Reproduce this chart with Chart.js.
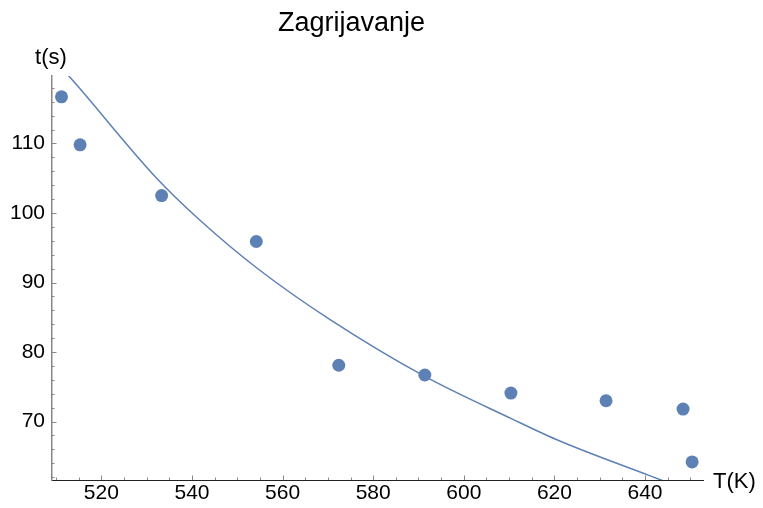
<!DOCTYPE html>
<html>
<head>
<meta charset="utf-8">
<script src="https://cdn.jsdelivr.net/npm/chart.js@4"></script>
<style>
  body { margin: 0; background: #fff; }
  canvas { display: block; }
</style>
</head>
<body>
<canvas id="myChart" width="763" height="508"></canvas>
<script>
// measured points
const tempK = [511.2, 515.3, 533.3, 554.2, 572.4, 591.4, 610.4, 631.4, 648.4, 650.4]
const timeS = [116.7, 109.8, 102.5, 95.9, 78.1, 76.7, 74.1, 73.0, 71.8, 64.2]

// fitted curve
const fitT = [512.7, 515.1, 532.2, 541.7, 554.9, 570.4, 591.4, 610.6, 621.2, 640.7, 646.0]
const fitS = [119.8, 118.0, 105.0, 99.0, 91.8, 84.7, 76.5, 70.4, 67.2, 62.3, 61.0]

const xTicks = [520, 540, 560, 580, 600, 620, 640]
const yTicks = [70, 80, 90, 100, 110]

const blue = '#5E81B5'
Chart.defaults.font.family = "'Liberation Sans', Arial, sans-serif"
Chart.defaults.color = '#000'

const axisTicks = {
  id: 'axisTicks',
  afterDraw(chart) {
    const ctx = chart.ctx
    const xs = chart.scales.x
    const ys = chart.scales.y
    const area = chart.chartArea
    ctx.save()
    ctx.strokeStyle = '#888'
    ctx.lineWidth = 1
    for (let v = 510; v <= 650; v += 5) {
      const len = xTicks.includes(v) ? 4.5 : 2.5
      const px = Math.round(xs.getPixelForValue(v)) + 0.5
      ctx.beginPath()
      ctx.moveTo(px, area.bottom)
      ctx.lineTo(px, area.bottom - len)
      ctx.stroke()
    }
    for (let v = 62; v <= 118; v += 2) {
      const len = yTicks.includes(v) ? 4.5 : 2.5
      const py = Math.round(ys.getPixelForValue(v)) + 0.5
      ctx.beginPath()
      ctx.moveTo(area.left, py)
      ctx.lineTo(area.left + len, py)
      ctx.stroke()
    }
    ctx.fillStyle = '#000'
    ctx.font = "22px 'Liberation Sans', Arial, sans-serif"
    ctx.textBaseline = 'middle'
    ctx.textAlign = 'center'
    ctx.fillText('t(s)', 51, 58)
    ctx.textAlign = 'left'
    ctx.fillText('T(K)', 713, 482)
    ctx.restore()
  }
}

const config = {
  type: 'scatter',
  data: {
    datasets: [
      {
        type: 'line',
        label: 'fit',
        data: fitT.map((t, i) => ({x: t, y: fitS[i]})),
        borderColor: blue,
        borderWidth: 1.5,
        pointRadius: 0,
        cubicInterpolationMode: 'monotone',
        fill: false
      },
      {
        label: 'Zagrijavanje',
        data: tempK.map((t, i) => ({x: t, y: timeS[i]})),
        backgroundColor: blue,
        borderColor: blue,
        pointRadius: 6.5,
        pointBorderWidth: 0
      }
    ]
  },
  options: {
    responsive: false,
    animation: false,
    layout: { padding: { left: 0, right: 60, top: 0, bottom: 0 } },
    scales: {
      x: {
        type: 'linear',
        min: 509.1,
        max: 652.8,
        afterBuildTicks: (s) => { s.ticks = xTicks.map((v) => ({value: v})) },
        afterFit: (s) => { s.height = 28 },
        ticks: { font: { size: 21 }, padding: 1, color: '#000' },
        grid: { display: true, drawOnChartArea: false, drawTicks: false },
        border: { color: '#222', width: 1 }
      },
      y: {
        type: 'linear',
        min: 61.6,
        max: 119.7,
        afterBuildTicks: (s) => { s.ticks = yTicks.map((v) => ({value: v})) },
        afterFit: (s) => { s.width = 52 },
        ticks: { font: { size: 21 }, padding: 7, color: '#000' },
        grid: { display: true, drawOnChartArea: false, drawTicks: false },
        border: { color: '#888', width: 1.5 }
      }
    },
    plugins: {
      legend: { display: false },
      tooltip: { enabled: false },
      title: {
        display: true,
        text: 'Zagrijavanje',
        color: '#000',
        font: { size: 27, weight: 'normal' },
        padding: { top: 7.3, bottom: 36.3 }
      }
    }
  },
  plugins: [axisTicks]
}

const myChart = new Chart(document.getElementById('myChart'), config)
</script>
</body>
</html>
